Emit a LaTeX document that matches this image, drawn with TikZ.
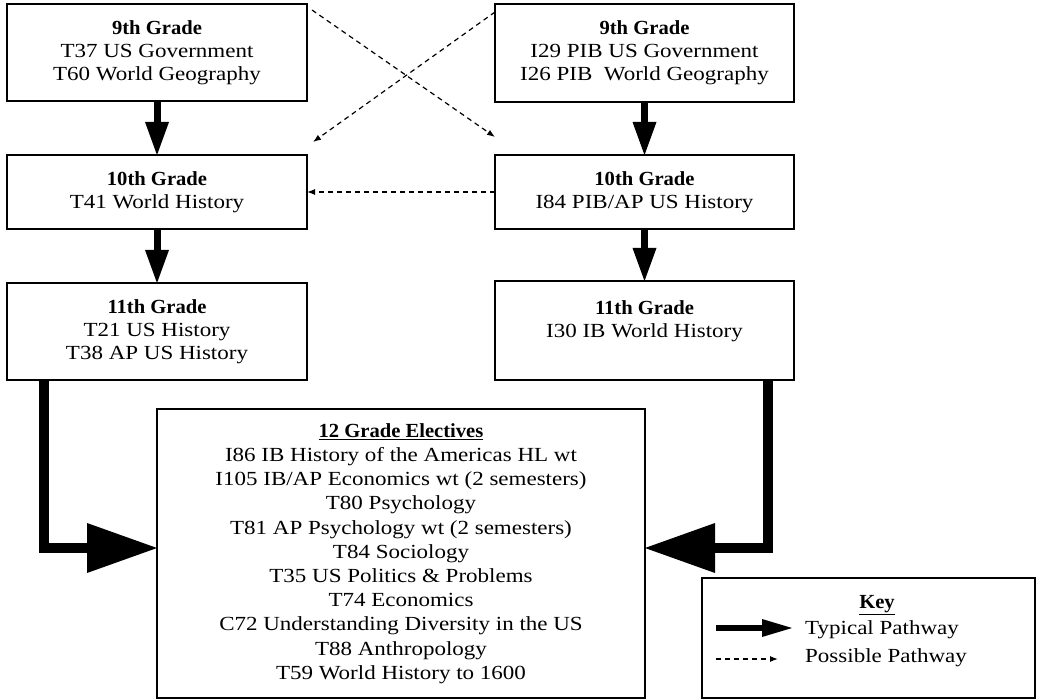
\documentclass[tikz,border=0pt]{standalone}
\usepackage{fontspec}
\setmainfont{Liberation Serif}[FakeStretch=1.15,BoldFeatures={FakeStretch=1.03}]
\usetikzlibrary{arrows.meta}
\begin{document}
\begin{tikzpicture}[x=1pt,y=-1pt,
  box/.style={draw=black, line width=2pt, fill=white, align=center, inner sep=0pt, outer sep=0pt,
    font=\fontsize{20}{23}\selectfont},
  sidebox/.style={box, minimum width=300pt},
  keytext/.style={inner sep=0pt, font=\fontsize{20}{23}\selectfont},
  midarrow/.style={line width=7pt, -{Triangle[width=24pt,length=33pt,line width=0pt]}},
  bigarrow/.style={line width=10.5pt, -{Triangle[width=50pt,length=70pt,line width=0pt]}},
  keyarrow/.style={line width=6pt, -{Triangle[width=18pt,length=30pt,line width=0pt]}},
  possible/.style={line width=1.2pt, dash pattern=on 5pt off 4pt, -{Latex[length=8pt,width=6pt]}},
]
\useasboundingbox (0,0) rectangle (1039,700);

% boxes
\node[sidebox, minimum height=97pt] (A) at (157,52.5) {\textbf{9th Grade}\\T37 US Government\\T60 World Geography};
\node[sidebox, minimum width=299pt, minimum height=98pt] (B) at (644.5,53) {\textbf{9th Grade}\\I29 PIB US Government\\I26 PIB~ World Geography};
\node[sidebox, minimum height=74pt] (C) at (157,192) {\textbf{10th Grade}\\T41 World History};
\node[sidebox, minimum width=299pt, minimum height=74pt] (D) at (644.5,192) {\textbf{10th Grade}\\I84 PIB/AP US History};
\node[sidebox, minimum height=97pt] (E) at (157,331.5) {\textbf{11th Grade}\\T21 US History\\T38 AP US History};
\node[sidebox, minimum width=299pt, minimum height=99pt] (F) at (644.5,330.5) {\textbf{11th Grade}\\I30 IB World History\\\mbox{}};
\node[box, minimum width=488pt, minimum height=289pt, font=\fontsize{20}{24.2}\selectfont] (X) at (401,553.5)
  {\textbf{\underline{12 Grade Electives}}\\
   I86 IB History of the Americas HL wt\\
   I105 IB/AP Economics wt (2 semesters)\\
   T80 Psychology\\
   T81 AP Psychology wt (2 semesters)\\
   T84 Sociology\\
   T35 US Politics \& Problems\\
   T74 Economics\\
   C72 Understanding Diversity in the US\\
   T88 Anthropology\\
   T59 World History to 1600};

% key
\node[box, minimum width=333pt, minimum height=120pt] (K) at (868.5,638) {};
\node[keytext, anchor=base] (kt) at (877,608) {\textbf{\underline{Key}}};
\node[keytext, anchor=base west] (kt1) at (805,634) {Typical Pathway};
\node[keytext, anchor=base west] (kt2) at (805,662) {Possible Pathway};
\coordinate (ka1) at (716,628);
\coordinate (kb1) at (792,628);
\coordinate (ka2) at (716,659);
\coordinate (kb2) at (778,659);
\draw[keyarrow] (ka1) -- (kb1);
\draw[possible] (ka2) -- (kb2);

% typical pathways
\draw[midarrow] (A.south) -- (C.north);
\draw[midarrow] (C.south) -- (E.north);
\draw[midarrow] (B.south) -- (D.north);
\draw[midarrow] (D.south) -- (F.north);
\draw[bigarrow] ([xshift=37pt]E.south west) |- ([yshift=5.5pt]X.west);
\draw[bigarrow] ([xshift=-26pt]F.south east) |- ([yshift=5.5pt]X.east);

% possible pathways
\draw[possible] ([shift={(5,6)}]A.north east) -- ([shift={(0,-18)}]D.north west);
\draw[possible] ([shift={(0,8)}]B.north west) -- ([shift={(6,-13)}]C.north east);
\draw[possible] (D.west) -- (C.east);
\end{tikzpicture}
\end{document}
